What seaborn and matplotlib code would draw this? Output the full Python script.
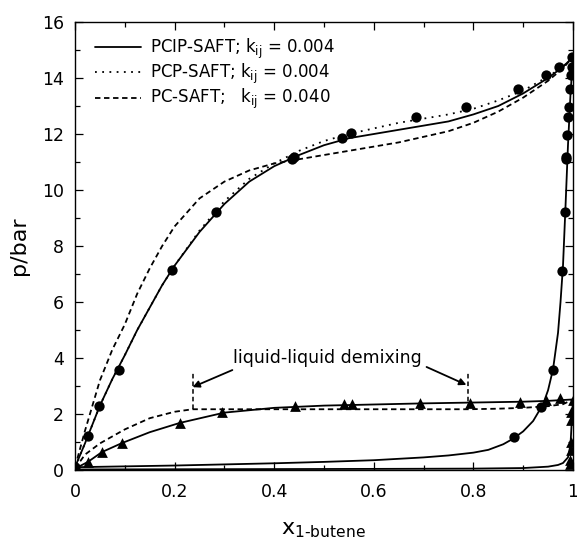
import numpy as np
import pandas as pd
import matplotlib
matplotlib.use('Agg')
import matplotlib.pyplot as plt
import seaborn as sns

# ---- data ----
# higher temperature isotherm (circles)
circ_x = [0.0, 0.026, 0.048, 0.088, 0.194, 0.284, 0.435, 0.44, 0.536, 0.554, 0.684, 0.786,
          0.89, 0.946, 0.972, 0.998, 0.998, 0.996, 0.994, 0.992, 0.991, 0.988, 0.986, 0.986,
          0.984, 0.978, 0.96, 0.936, 0.882]
circ_y = [0.1, 1.21, 2.29, 3.57, 7.14, 9.21, 11.1, 11.18, 11.86, 12.04, 12.61, 12.97,
          13.6, 14.1, 14.4, 14.75, 14.4, 14.1, 13.6, 12.96, 12.6, 11.96, 11.18, 11.1,
          9.2, 7.1, 3.57, 2.25, 1.18]

# lower temperature isotherm (triangles)
tri_x = [0.0, 0.026, 0.054, 0.094, 0.21, 0.296, 0.442, 0.54, 0.556, 0.692, 0.794, 0.894,
         0.946, 0.974, 1.0, 0.997, 0.997, 0.996, 0.996, 0.995, 0.995]
tri_y = [0.05, 0.29, 0.64, 0.96, 1.68, 2.07, 2.29, 2.36, 2.36, 2.39, 2.39, 2.43,
         2.5, 2.57, 2.5, 2.07, 1.79, 1.0, 0.71, 0.36, 0.2]

# PCIP-SAFT, high T bubble
pcip_hi_x = [0, 0.02, 0.05, 0.075, 0.1, 0.125, 0.15, 0.175, 0.2, 0.25, 0.3, 0.35, 0.4, 0.45,
             0.5, 0.55, 0.6, 0.65, 0.7, 0.75, 0.8, 0.85, 0.9, 0.95, 0.98, 1.0]
pcip_hi_y = [0.1, 0.95, 2.3, 3.25, 4.1, 5.0, 5.8, 6.6, 7.3, 8.5, 9.5, 10.3, 10.85, 11.25,
             11.6, 11.85, 12.0, 12.15, 12.3, 12.45, 12.7, 13.0, 13.45, 14.0, 14.4, 14.75]
# PCP-SAFT, high T bubble
pcp_hi_x = [0, 0.02, 0.05, 0.075, 0.1, 0.125, 0.15, 0.175, 0.2, 0.25, 0.3, 0.35, 0.4, 0.45,
            0.5, 0.55, 0.6, 0.65, 0.7, 0.75, 0.8, 0.85, 0.9, 0.95, 0.98, 1.0]
pcp_hi_y = [0.1, 0.95, 2.3, 3.25, 4.1, 5.0, 5.8, 6.6, 7.3, 8.55, 9.6, 10.4, 10.95, 11.4,
            11.75, 12.0, 12.2, 12.4, 12.55, 12.7, 12.9, 13.2, 13.55, 14.05, 14.4, 14.75]
# PC-SAFT, high T bubble
pc_hi_x = [0, 0.02, 0.05, 0.075, 0.1, 0.125, 0.15, 0.175, 0.2, 0.25, 0.3, 0.35, 0.4, 0.45,
           0.5, 0.55, 0.6, 0.65, 0.7, 0.75, 0.8, 0.85, 0.9, 0.95, 0.98, 1.0]
pc_hi_y = [0.1, 1.4, 3.2, 4.3, 5.2, 6.3, 7.2, 8.0, 8.7, 9.7, 10.3, 10.7, 10.95, 11.1,
           11.25, 11.4, 11.55, 11.7, 11.9, 12.1, 12.4, 12.8, 13.3, 13.9, 14.35, 14.75]
# dew curve, high T
dew_hi_x = [0, 0.1, 0.2, 0.3, 0.4, 0.5, 0.6, 0.7, 0.75, 0.8, 0.83, 0.86, 0.88, 0.9, 0.92,
            0.94, 0.95, 0.96, 0.97, 0.975, 0.98, 0.985, 0.99, 0.995, 1.0]
dew_hi_y = [0.1, 0.13, 0.16, 0.2, 0.24, 0.29, 0.35, 0.45, 0.52, 0.62, 0.72, 0.92, 1.12,
            1.38, 1.75, 2.35, 2.85, 3.6, 4.9, 6.0, 7.3, 9.4, 11.6, 13.4, 14.75]

# PCIP-SAFT, low T bubble
pcip_lo_x = [0, 0.026, 0.054, 0.094, 0.15, 0.21, 0.3, 0.4, 0.5, 0.6, 0.7, 0.8, 0.9, 0.95, 1.0]
pcip_lo_y = [0.05, 0.29, 0.64, 0.96, 1.35, 1.68, 2.05, 2.22, 2.3, 2.34, 2.38, 2.41, 2.44, 2.47, 2.52]
# PC-SAFT, low T bubble (three-phase plateau)
pc_lo_x = [0, 0.02, 0.05, 0.1, 0.15, 0.2, 0.236, 0.79, 0.85, 0.9, 0.95, 0.98, 1.0]
pc_lo_y = [0.05, 0.55, 0.95, 1.45, 1.85, 2.08, 2.17, 2.17, 2.19, 2.22, 2.28, 2.35, 2.52]
# dew curve, low T
dew_lo_x = [0, 0.3, 0.6, 0.8, 0.9, 0.95, 0.97, 0.98, 0.99, 0.995, 1.0]
dew_lo_y = [0.02, 0.03, 0.04, 0.05, 0.07, 0.12, 0.18, 0.25, 0.45, 0.9, 2.52]

# liquid-liquid demixing marks
lle_x = [0.236, 0.79]
lle_bottom = 2.17
lle_top = 3.46

sns.set_theme(style='ticks')
plt.rcParams['font.family'] = ['DejaVu Sans']
plt.rcParams['text.color'] = 'black'
plt.rcParams['axes.labelcolor'] = 'black'

fig = plt.figure(figsize=(5.77, 5.45), dpi=100)
ax = fig.add_axes([0.130, 0.1376, 0.8630, 0.822])

lw = 1.3
dash = (3, 2)
dot = (1, 3)

def line(x, y, style, label=None):
    df = pd.DataFrame({'x': x, 'y': y})
    sns.lineplot(data=df, x='x', y='y', ax=ax, color='black', lw=lw, sort=False,
                 estimator=None, label=label, legend=label is not None)
    l = ax.lines[-1]
    if style == 'dash':
        l.set_dashes(dash)
    elif style == 'dot':
        l.set_dashes(dot)

line(pcip_hi_x, pcip_hi_y, 'solid', 'PCIP-SAFT; k$_{\\mathrm{ij}}$ = 0.004')
line(pcp_hi_x, pcp_hi_y, 'dot', 'PCP-SAFT; k$_{\\mathrm{ij}}$ = 0.004')
line(pc_hi_x, pc_hi_y, 'dash', 'PC-SAFT;   k$_{\\mathrm{ij}}$ = 0.040')
line(dew_hi_x, dew_hi_y, 'solid')
line(pcip_lo_x, pcip_lo_y, 'solid')
line(pc_lo_x, pc_lo_y, 'dash')
line(dew_lo_x, dew_lo_y, 'solid')

for xv in lle_x:
    ax.plot([xv, xv], [lle_bottom, lle_top], color='black', lw=1.1, dashes=dash)

sns.scatterplot(x=circ_x, y=circ_y, ax=ax, marker='o', color='black', s=55,
                edgecolor='black', linewidth=0, zorder=5, legend=False)
sns.scatterplot(x=tri_x, y=tri_y, ax=ax, marker='^', color='black', s=60,
                edgecolor='black', linewidth=0, zorder=5, legend=False)

ax.text(0.506, 4.0, 'liquid-liquid demixing', fontsize=12.5, ha='center', va='center',
        color='black')
arrow = dict(arrowstyle='-|>', color='black', lw=1.3, mutation_scale=10, shrinkA=0, shrinkB=0)
ax.annotate('', xy=(0.236, 2.96), xytext=(0.316, 3.57), arrowprops=arrow)
ax.annotate('', xy=(0.786, 3.04), xytext=(0.706, 3.68), arrowprops=arrow)

ax.set_xlim(0, 1)
ax.set_ylim(0, 16)
ax.set_xticks([0, 0.2, 0.4, 0.6, 0.8, 1.0])
ax.set_xticklabels(['0', '0.2', '0.4', '0.6', '0.8', '1'])
ax.set_xticks(np.arange(0, 1.01, 0.1), minor=True)
ax.set_yticks(np.arange(0, 17, 2))
ax.set_yticks(np.arange(0, 17, 1), minor=True)
ax.tick_params(which='both', direction='in', top=True, right=True, labelsize=12.5,
               color='black', labelcolor='black', width=0.9)
ax.tick_params(which='major', length=6)
ax.tick_params(which='minor', length=3.5)
ax.tick_params(axis='x', which='major', pad=9)
ax.tick_params(axis='y', which='major', pad=8)
for s in ax.spines.values():
    s.set_color('black')
    s.set_linewidth(1.0)

ax.set_xlabel('x$_{\\mathrm{1\\text{-}butene}}$', fontsize=16, labelpad=14)
ax.set_ylabel('p/bar', fontsize=16, labelpad=9)

leg = ax.legend(loc='upper left', frameon=False, fontsize=12, handlelength=2.8,
                handletextpad=0.5, labelspacing=0.05, borderaxespad=0.1,
                bbox_to_anchor=(0.023, 0.985))
for t in leg.get_texts():
    t.set_color('black')

fig.savefig('out.png', dpi=100)
